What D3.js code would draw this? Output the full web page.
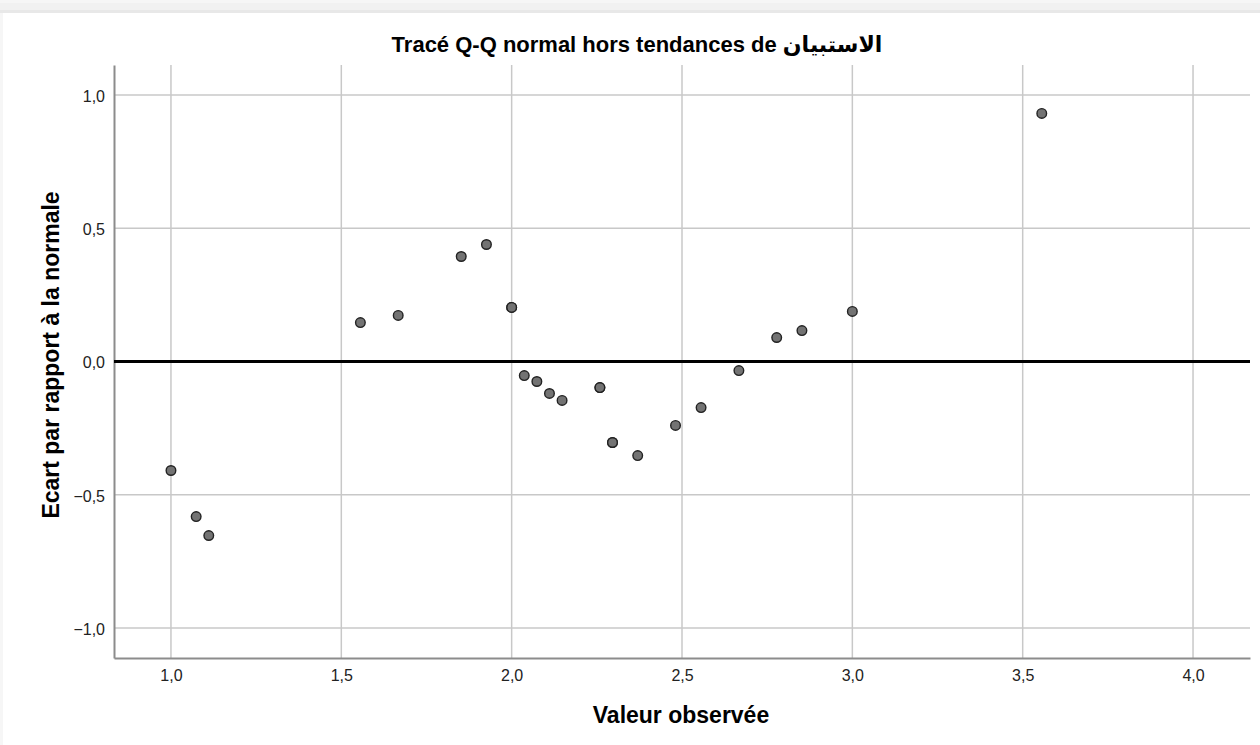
<!DOCTYPE html>
<html><head><meta charset="utf-8">
<script src="https://cdn.jsdelivr.net/npm/d3@7"></script>
<style>
html,body{margin:0;padding:0;background:#fff;}
svg{display:block;font-family:"Liberation Sans",Arial,"DejaVu Sans",sans-serif;}
</style></head>
<body><svg id="c" width="1260" height="745"></svg>
<script>
const title = "Tracé Q-Q normal hors tendances de الاستبيان";
const xLabel = "Valeur observée";
const yLabel = "Ecart par rapport à la normale";
const xTicks = [1.0, 1.5, 2.0, 2.5, 3.0, 3.5, 4.0];
const yTicks = [-1.0, -0.5, 0.0, 0.5, 1.0];
const observed = [1.000, 1.074, 1.111, 1.556, 1.667, 1.852, 1.926, 2.000, 2.000, 2.037, 2.074, 2.111, 2.148, 2.259, 2.259, 2.296, 2.296, 2.370, 2.481, 2.556, 2.667, 2.778, 2.852, 3.000, 3.556];
const deviation = [-0.409, -0.582, -0.653, 0.146, 0.173, 0.394, 0.439, 0.203, 0.203, -0.053, -0.075, -0.120, -0.146, -0.098, -0.098, -0.304, -0.304, -0.353, -0.240, -0.173, -0.034, 0.090, 0.116, 0.188, 0.931];

const svg = d3.select("#c");
// viewer frame
svg.append("rect").attr("x",0).attr("y",0).attr("width",1260).attr("height",745).attr("fill","#f6f6f6");
svg.append("rect").attr("x",0).attr("y",3).attr("width",1260).attr("height",7).attr("fill","#f1f1f1");
svg.append("rect").attr("x",0).attr("y",10).attr("width",1260).attr("height",3).attr("fill","#e8e8e8");
svg.append("rect").attr("x",3).attr("y",13).attr("width",1257).attr("height",732).attr("fill","#ffffff");

const L=114, R=1250, T=65, B=658;
const x = d3.scaleLinear().domain([0.8328, 4.1672]).range([L, R]);
const y = d3.scaleLinear().domain([-1.1126, 1.1126]).range([B, T]);

const fmt = d => d3.format(".1f")(d).replace(".", ",");

// gridlines
svg.append("g").selectAll("line").data(xTicks).join("line")
  .attr("x1", d=>x(d)).attr("x2", d=>x(d)).attr("y1", T).attr("y2", B)
  .attr("stroke","#c8c8c8").attr("stroke-width",1.5);
svg.append("g").selectAll("line").data(yTicks).join("line")
  .attr("x1", L).attr("x2", R).attr("y1", d=>y(d)).attr("y2", d=>y(d))
  .attr("stroke","#c8c8c8").attr("stroke-width",1.5);

// axes
const xAxis = d3.axisBottom(x).tickValues(xTicks).tickFormat(fmt).tickSize(0).tickPadding(12);
const gx = svg.append("g").attr("transform",`translate(0,${B})`).call(xAxis);
gx.select(".domain").attr("stroke","#8c8c8c").attr("stroke-width",2);
gx.attr("font-size",null).attr("font-family",null);
gx.selectAll("text").attr("font-size",16).attr("fill","#222");

const yAxis = d3.axisLeft(y).tickValues(yTicks).tickFormat(fmt).tickSize(0).tickPadding(9);
const gy = svg.append("g").attr("transform",`translate(${L},0)`).call(yAxis);
gy.select(".domain").attr("stroke","#8c8c8c").attr("stroke-width",2);
gy.attr("font-size",null).attr("font-family",null);
gy.selectAll("text").attr("font-size",16).attr("fill","#222").attr("dy","0.4em");

// zero reference line
svg.append("line").attr("x1",L).attr("x2",R).attr("y1",y(0)).attr("y2",y(0))
  .attr("stroke","#000").attr("stroke-width",3);

// points
svg.append("g").selectAll("circle").data(observed.map((v,i)=>[v,deviation[i]])).join("circle")
  .attr("cx", d=>x(d[0])).attr("cy", d=>y(d[1])).attr("r",4.8)
  .attr("fill","#737373").attr("stroke","#222").attr("stroke-width",1.4);

// titles
svg.append("text").attr("x",637).attr("y",52).attr("text-anchor","middle")
  .attr("font-size",22).attr("font-weight","bold").attr("fill","#000").text(title);
svg.append("text").attr("x",681).attr("y",723).attr("text-anchor","middle")
  .attr("font-size",23).attr("font-weight","bold").attr("fill","#000").text(xLabel);
svg.append("text").attr("transform","translate(59,355) rotate(-90)").attr("text-anchor","middle")
  .attr("font-size",23).attr("font-weight","bold").attr("fill","#000").text(yLabel);
</script></body></html>
